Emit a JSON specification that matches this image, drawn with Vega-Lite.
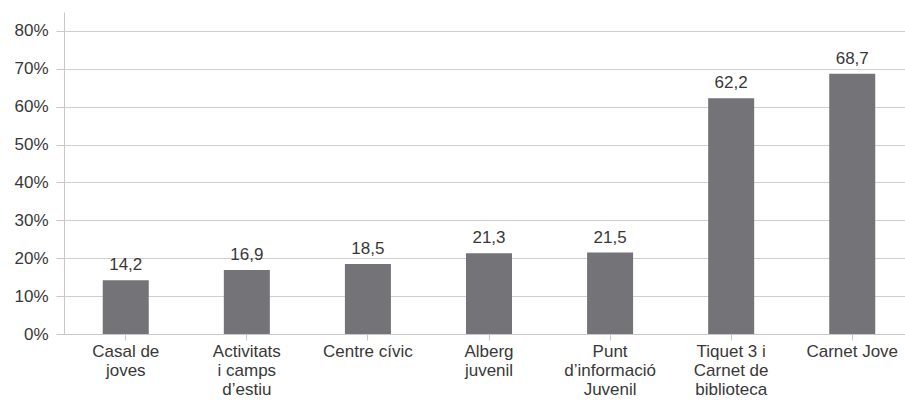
{
  "$schema": "https://vega.github.io/schema/vega-lite/v6.json",
  "width": 850,
  "height": 322,
  "autosize": {"type": "none"},
  "padding": {"left": 64, "top": 12, "right": 0, "bottom": 66},
  "background": "white",
  "config": {
    "view": {"stroke": null},
    "font": "Liberation Sans",
    "locale": {"number": {"decimal": ",", "thousands": ".", "grouping": [3], "currency": ["", " €"]}}
  },
  "data": {
    "values": [
      {"category": "Casal de joves", "value": 14.2},
      {"category": "Activitats i camps d'estiu", "value": 16.9},
      {"category": "Centre cívic", "value": 18.5},
      {"category": "Alberg juvenil", "value": 21.3},
      {"category": "Punt d'informació Juvenil", "value": 21.5},
      {"category": "Tiquet 3 i Carnet de biblioteca", "value": 62.2},
      {"category": "Carnet Jove", "value": 68.7}
    ]
  },
  "encoding": {
    "x": {
      "field": "category",
      "type": "nominal",
      "sort": null,
      "scale": {"paddingInner": 0.62, "paddingOuter": 0.32},
      "axis": {
        "title": null,
        "labelAngle": 0,
        "labelFontSize": 17,
        "labelColor": "#383838",
        "labelLineHeight": 19,
        "labelPadding": 3,
        "labelBaseline": "top",
        "tickSize": 6,
        "tickColor": "#c8c8c8",
        "domainColor": "#c8c8c8",
        "labelLimit": 0,
        "labelExpr": "{'Casal de joves': ['Casal de', 'joves'], 'Activitats i camps d\\'estiu': ['Activitats', 'i camps', 'd’estiu'], 'Centre cívic': ['Centre cívic'], 'Alberg juvenil': ['Alberg', 'juvenil'], 'Punt d\\'informació Juvenil': ['Punt', 'd’informació', 'Juvenil'], 'Tiquet 3 i Carnet de biblioteca': ['Tiquet 3 i', 'Carnet de', 'biblioteca'], 'Carnet Jove': ['Carnet Jove']}[datum.label]"
      }
    },
    "y": {
      "field": "value",
      "type": "quantitative",
      "scale": {"domain": [0, 85], "nice": false},
      "axis": {
        "title": null,
        "values": [0, 10, 20, 30, 40, 50, 60, 70, 80],
        "labelExpr": "datum.value + '%'",
        "labelFontSize": 17,
        "labelColor": "#383838",
        "labelPadding": 8,
        "tickSize": 8,
        "tickColor": "#c8c8c8",
        "domainColor": "#c8c8c8",
        "gridColor": "#cfcfcf",
        "grid": true
      }
    }
  },
  "layer": [
    {"mark": {"type": "bar", "color": "#737378"}},
    {
      "mark": {"type": "text", "dy": -6, "baseline": "bottom", "fontSize": 17, "color": "#383838"},
      "encoding": {"text": {"field": "value", "type": "quantitative", "format": ".1f"}}
    }
  ]
}
